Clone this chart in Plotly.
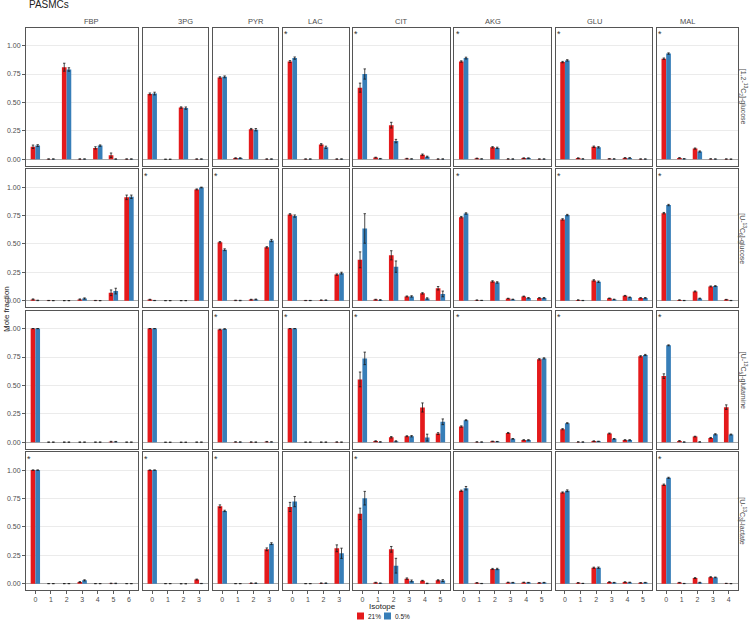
import plotly.graph_objects as go

# ---------------- data ----------------
metabolites = ["FBP", "3PG", "PYR", "LAC", "CIT", "AKG", "GLU", "MAL"]
n_isotopes = [7, 4, 4, 4, 6, 6, 6, 5]
tracers = ["[1,2-<sup>13</sup>C<sub>2</sub>]-glucose",
           "[U-<sup>13</sup>C<sub>6</sub>]-glucose",
           "[U-<sup>13</sup>C<sub>5</sub>]-glutamine",
           "[U-<sup>13</sup>C<sub>3</sub>]-lactate"]
conditions = ["21%", "0.5%"]

# [1,2-13C2]-glucose
glc12_21 = [[0.11, 0.002, 0.81, 0.002, 0.10, 0.035, 0.002], [0.575, 0.0, 0.455, 0.002],
            [0.72, 0.01, 0.265, 0.002], [0.86, 0.002, 0.13, 0.002],
            [0.63, 0.015, 0.30, 0.006, 0.04, 0.002], [0.86, 0.008, 0.105, 0.003, 0.01, 0.002],
            [0.855, 0.01, 0.11, 0.004, 0.012, 0.002], [0.885, 0.012, 0.094, 0.003, 0.002]]
glc12_21_err = [[0.015, 0.001, 0.035, 0.001, 0.01, 0.02, 0.001], [0.008, 0.0, 0.006, 0.001],
                [0.006, 0.003, 0.006, 0.001], [0.008, 0.001, 0.007, 0.001],
                [0.04, 0.003, 0.025, 0.002, 0.006, 0.001], [0.006, 0.002, 0.006, 0.001, 0.002, 0.001],
                [0.006, 0.002, 0.006, 0.001, 0.002, 0.001], [0.006, 0.002, 0.005, 0.001, 0.001]]
glc12_05 = [[0.12, 0.002, 0.79, 0.002, 0.12, 0.002, 0.002], [0.578, 0.0, 0.45, 0.002],
            [0.725, 0.01, 0.26, 0.002], [0.89, 0.002, 0.105, 0.002],
            [0.75, 0.005, 0.16, 0.003, 0.022, 0.002], [0.89, 0.003, 0.10, 0.002, 0.01, 0.002],
            [0.87, 0.003, 0.105, 0.003, 0.012, 0.002], [0.93, 0.004, 0.068, 0.002, 0.001]]
glc12_05_err = [[0.008, 0.001, 0.015, 0.001, 0.006, 0.001, 0.001], [0.012, 0.0, 0.01, 0.001],
                [0.008, 0.003, 0.01, 0.001], [0.01, 0.001, 0.01, 0.001],
                [0.045, 0.002, 0.015, 0.001, 0.005, 0.001], [0.008, 0.001, 0.006, 0.001, 0.002, 0.001],
                [0.006, 0.001, 0.006, 0.001, 0.002, 0.001], [0.006, 0.001, 0.005, 0.001, 0.001]]

# [U-13C6]-glucose
glc6_21 = [[0.012, 0.002, 0.001, 0.012, 0.002, 0.07, 0.91], [0.01, 0.001, 0.001, 0.98],
           [0.515, 0.003, 0.01, 0.47], [0.76, 0.002, 0.005, 0.23],
           [0.36, 0.01, 0.40, 0.038, 0.065, 0.11], [0.735, 0.005, 0.17, 0.02, 0.038, 0.025],
           [0.716, 0.006, 0.179, 0.022, 0.044, 0.025], [0.771, 0.006, 0.082, 0.126, 0.01]]
glc6_21_err = [[0.004, 0.001, 0.001, 0.004, 0.001, 0.025, 0.02], [0.003, 0.001, 0.001, 0.004],
               [0.006, 0.002, 0.003, 0.006], [0.006, 0.001, 0.002, 0.006],
               [0.07, 0.003, 0.04, 0.004, 0.006, 0.015], [0.006, 0.002, 0.006, 0.002, 0.003, 0.002],
               [0.006, 0.002, 0.006, 0.002, 0.003, 0.002], [0.006, 0.002, 0.004, 0.004, 0.002]]
glc6_05 = [[0.003, 0.001, 0.001, 0.02, 0.001, 0.085, 0.915], [0.002, 0.001, 0.001, 0.997],
           [0.449, 0.002, 0.012, 0.53], [0.745, 0.002, 0.005, 0.243],
           [0.636, 0.007, 0.30, 0.038, 0.02, 0.06], [0.768, 0.003, 0.161, 0.012, 0.025, 0.025],
           [0.754, 0.002, 0.167, 0.012, 0.03, 0.025], [0.842, 0.002, 0.02, 0.129, 0.002]]
glc6_05_err = [[0.002, 0.001, 0.001, 0.005, 0.001, 0.025, 0.015], [0.001, 0.001, 0.001, 0.003],
               [0.008, 0.002, 0.003, 0.01], [0.01, 0.001, 0.002, 0.008],
               [0.13, 0.003, 0.05, 0.006, 0.006, 0.025], [0.006, 0.001, 0.006, 0.002, 0.003, 0.003],
               [0.006, 0.001, 0.006, 0.002, 0.003, 0.003], [0.006, 0.001, 0.003, 0.004, 0.001]]

# [U-13C5]-glutamine
gln_21 = [[1.0, 0.001, 0.001, 0.001, 0.001, 0.005, 0.001], [1.0, 0.0, 0.0, 0.001],
          [0.992, 0.003, 0.002, 0.005], [1.0, 0.001, 0.001, 0.002],
          [0.553, 0.01, 0.044, 0.053, 0.306, 0.076], [0.138, 0.003, 0.008, 0.082, 0.02, 0.73],
          [0.115, 0.003, 0.01, 0.077, 0.02, 0.756], [0.582, 0.012, 0.05, 0.038, 0.309]]
gln_21_err = [[0.001, 0.001, 0.001, 0.001, 0.001, 0.003, 0.001], [0.001, 0.0, 0.0, 0.001],
              [0.003, 0.001, 0.001, 0.002], [0.001, 0.001, 0.001, 0.001],
              [0.065, 0.003, 0.006, 0.004, 0.04, 0.008], [0.006, 0.001, 0.002, 0.004, 0.002, 0.006],
              [0.005, 0.001, 0.002, 0.004, 0.002, 0.006], [0.02, 0.003, 0.003, 0.004, 0.02]]
gln_05 = [[1.0, 0.001, 0.001, 0.001, 0.001, 0.005, 0.001], [1.0, 0.0, 0.0, 0.001],
          [0.997, 0.002, 0.001, 0.003], [1.0, 0.001, 0.001, 0.001],
          [0.738, 0.003, 0.009, 0.053, 0.041, 0.18], [0.194, 0.002, 0.006, 0.03, 0.02, 0.738],
          [0.168, 0.002, 0.008, 0.03, 0.02, 0.768], [0.853, 0.002, 0.003, 0.07, 0.068]]
gln_05_err = [[0.001, 0.001, 0.001, 0.001, 0.001, 0.002, 0.001], [0.001, 0.0, 0.0, 0.001],
              [0.002, 0.001, 0.001, 0.001], [0.001, 0.001, 0.001, 0.001],
              [0.055, 0.002, 0.004, 0.006, 0.03, 0.025], [0.004, 0.001, 0.001, 0.003, 0.002, 0.005],
              [0.004, 0.001, 0.001, 0.003, 0.002, 0.005], [0.004, 0.001, 0.001, 0.005, 0.004]]

# [U-13C3]-lactate
lac_21 = [[1.0, 0.001, 0.001, 0.015, 0.001, 0.003, 0.001], [1.0, 0.001, 0.0, 0.037],
          [0.682, 0.001, 0.005, 0.303], [0.676, 0.001, 0.005, 0.312],
          [0.615, 0.01, 0.303, 0.045, 0.027, 0.03], [0.818, 0.008, 0.13, 0.012, 0.012, 0.008],
          [0.803, 0.008, 0.141, 0.015, 0.015, 0.008], [0.871, 0.01, 0.05, 0.058, 0.003]]
lac_21_err = [[0.001, 0.001, 0.001, 0.004, 0.001, 0.002, 0.001], [0.001, 0.001, 0.0, 0.004],
              [0.012, 0.001, 0.002, 0.012], [0.04, 0.001, 0.002, 0.03],
              [0.05, 0.003, 0.025, 0.006, 0.003, 0.005], [0.006, 0.002, 0.005, 0.002, 0.002, 0.002],
              [0.005, 0.002, 0.005, 0.003, 0.002, 0.002], [0.006, 0.002, 0.004, 0.004, 0.001]]
lac_05 = [[1.0, 0.001, 0.001, 0.03, 0.001, 0.003, 0.001], [1.0, 0.001, 0.0, 0.002],
          [0.641, 0.001, 0.005, 0.353], [0.723, 0.001, 0.005, 0.268],
          [0.753, 0.005, 0.159, 0.025, 0.003, 0.028], [0.841, 0.002, 0.13, 0.01, 0.01, 0.01],
          [0.818, 0.003, 0.141, 0.01, 0.012, 0.01], [0.932, 0.002, 0.01, 0.056, 0.001]]
lac_05_err = [[0.001, 0.001, 0.001, 0.005, 0.001, 0.002, 0.001], [0.001, 0.001, 0.0, 0.001],
              [0.006, 0.001, 0.002, 0.008], [0.045, 0.001, 0.002, 0.045],
              [0.06, 0.002, 0.065, 0.008, 0.002, 0.008], [0.015, 0.001, 0.006, 0.002, 0.002, 0.002],
              [0.008, 0.001, 0.006, 0.002, 0.002, 0.002], [0.005, 0.001, 0.003, 0.003, 0.001]]

# significance asterisks per tracer (1 = '*')
sig_glc12 = [0, 0, 0, 1, 1, 1, 1, 1]
sig_glc6 = [0, 1, 1, 0, 0, 1, 1, 1]
sig_gln = [0, 0, 1, 1, 1, 1, 1, 1]
sig_lac = [1, 1, 1, 0, 1, 0, 0, 1]

# ---------------- layout geometry ----------------
W, H = 749, 620
ML, MR, MT, MB = 26, 11, 28, 30
PW, PH = W - ML - MR, H - MT - MB
GAPX, GAPY = 4.5, 4.0
unit = (PW - GAPX * 7) / sum(n + 0.2 for n in n_isotopes)
row_h = (PH - GAPY * 3) / 4


def clamp(v):
    return max(0.0, min(1.0, round(v, 6)))


col_dom = []
x0 = 0.0
for n in n_isotopes:
    w = (n + 0.2) * unit
    col_dom.append([clamp(x0 / PW), clamp((x0 + w) / PW)])
    x0 += w + GAPX
row_dom = []
for r in range(4):
    top = r * (row_h + GAPY)
    row_dom.append([clamp(1 - (top + row_h) / PH), clamp(1 - top / PH)])

RED, BLUE = "#E41A1C", "#377EB8"
FONT = "Liberation Sans Narrow, Liberation Sans, Arial, sans-serif"
TXT = "#4d4d4d"

rows_21 = [glc12_21, glc6_21, gln_21, lac_21]
rows_21e = [glc12_21_err, glc6_21_err, gln_21_err, lac_21_err]
rows_05 = [glc12_05, glc6_05, gln_05, lac_05]
rows_05e = [glc12_05_err, glc6_05_err, gln_05_err, lac_05_err]
rows_sig = [sig_glc12, sig_glc6, sig_gln, sig_lac]

fig = go.Figure()
annotations = []
layout_axes = {}

for r in range(4):
    for c in range(8):
        k = r * 8 + c + 1
        xs = "" if k == 1 else str(k)
        n = n_isotopes[c]
        xpos = list(range(n))
        for vals, errs, col, name in [(rows_21[r][c], rows_21e[r][c], RED, conditions[0]),
                                      (rows_05[r][c], rows_05e[r][c], BLUE, conditions[1])]:
            fig.add_trace(go.Bar(
                x=xpos, y=vals, name=name, marker=dict(color=col, line=dict(width=0)),
                error_y=dict(type="data", array=errs, visible=True, color="#1a1a1a",
                             thickness=0.8, width=1.2),
                xaxis="x" + xs, yaxis="y" + xs, showlegend=False, hoverinfo="skip"))
        bottom = r == 3
        left = c == 0
        layout_axes["xaxis" + xs] = dict(
            domain=col_dom[c], anchor="y" + xs, range=[-0.6, n - 0.4], automargin=False,
            tickmode="array", tickvals=xpos, ticktext=[str(i) for i in xpos],
            showticklabels=bottom, ticks="outside" if bottom else "", ticklen=3,
            tickwidth=0.8, tickcolor="#333333",
            tickfont=dict(size=7, color=TXT, family=FONT),
            showgrid=False, zeroline=False, showline=True, mirror=True,
            linecolor="#555555", linewidth=1, fixedrange=True)
        layout_axes["yaxis" + xs] = dict(
            domain=row_dom[r], anchor="x" + xs, range=[-0.055, 1.155], automargin=False,
            tickmode="array", tickvals=[0, 0.25, 0.5, 0.75, 1.0],
            ticktext=["0.00", "0.25", "0.50", "0.75", "1.00"],
            showticklabels=left, ticks="outside" if left else "", ticklen=3,
            tickwidth=0.8, tickcolor="#333333",
            tickfont=dict(size=7, color=TXT, family=FONT),
            showgrid=True, gridcolor="#ebebeb", gridwidth=1,
            zeroline=True, zerolinecolor="#aaaaaa", zerolinewidth=1,
            showline=True, mirror=True, linecolor="#555555", linewidth=1, fixedrange=True)
        if rows_sig[r][c]:
            annotations.append(dict(x=-0.38, y=1.1, xref="x" + xs, yref="y" + xs,
                                    text="*", showarrow=False,
                                    font=dict(size=9, color="#333333", family=FONT)))

# column strip labels
for c, m in enumerate(metabolites):
    annotations.append(dict(x=sum(col_dom[c]) / 2, y=1 + 6 / PH, xref="paper", yref="paper",
                            text=m, showarrow=False, yanchor="middle",
                            font=dict(size=7.5, color=TXT, family=FONT)))
# row strip labels
for r, t in enumerate(tracers):
    annotations.append(dict(x=1 + 5 / PW, y=sum(row_dom[r]) / 2, xref="paper", yref="paper",
                            text=t, showarrow=False, textangle=90, xanchor="center",
                            yanchor="middle",
                            font=dict(size=7, color=TXT, family=FONT)))
# axis titles
annotations.append(dict(x=-20 / PW, y=0.5, xref="paper", yref="paper", text="Mole fraction",
                        showarrow=False, textangle=-90, xanchor="center", yanchor="middle",
                        font=dict(size=8, color="#222222", family=FONT)))
annotations.append(dict(x=0.5, y=-16 / PH, xref="paper", yref="paper", text="Isotope",
                        showarrow=False, yanchor="middle",
                        font=dict(size=8, color="#222222", family=FONT)))
# title
annotations.append(dict(x=1 / PW, y=1 + 23 / PH, xref="paper", yref="paper", text="PASMCs",
                        showarrow=False, xanchor="left", yanchor="middle",
                        font=dict(size=10, color="#222222", family=FONT)))

# legend (keys + labels)
shapes = []
leg_y = -26 / PH
key = 7
for lx, col, lab in [(357, RED, conditions[0]), (384, BLUE, conditions[1])]:
    px = (lx - ML) / PW
    shapes.append(dict(type="rect", xref="paper", yref="paper",
                       x0=px, x1=px + key / PW, y0=leg_y - key / 2 / PH, y1=leg_y + key / 2 / PH,
                       fillcolor=col, line=dict(width=0)))
    annotations.append(dict(x=px + (key + 2) / PW, y=leg_y, xref="paper", yref="paper",
                            text=lab, showarrow=False, xanchor="left", yanchor="middle",
                            font=dict(size=6.5, color="#222222", family=FONT)))

fig.update_layout(
    template="none",
    width=W, height=H, margin=dict(l=ML, r=MR, t=MT, b=MB, pad=0, autoexpand=False),
    paper_bgcolor="white", plot_bgcolor="white",
    barmode="group", bargap=0.4, bargroupgap=0.0, hovermode=False,
    showlegend=False, annotations=annotations, shapes=shapes,
    font=dict(family=FONT, size=7, color=TXT),
    **layout_axes)

fig.write_html("out.html", config={"displayModeBar": False, "staticPlot": True},
               post_script="document.body.style.margin='0';document.body.style.overflow='hidden';")
